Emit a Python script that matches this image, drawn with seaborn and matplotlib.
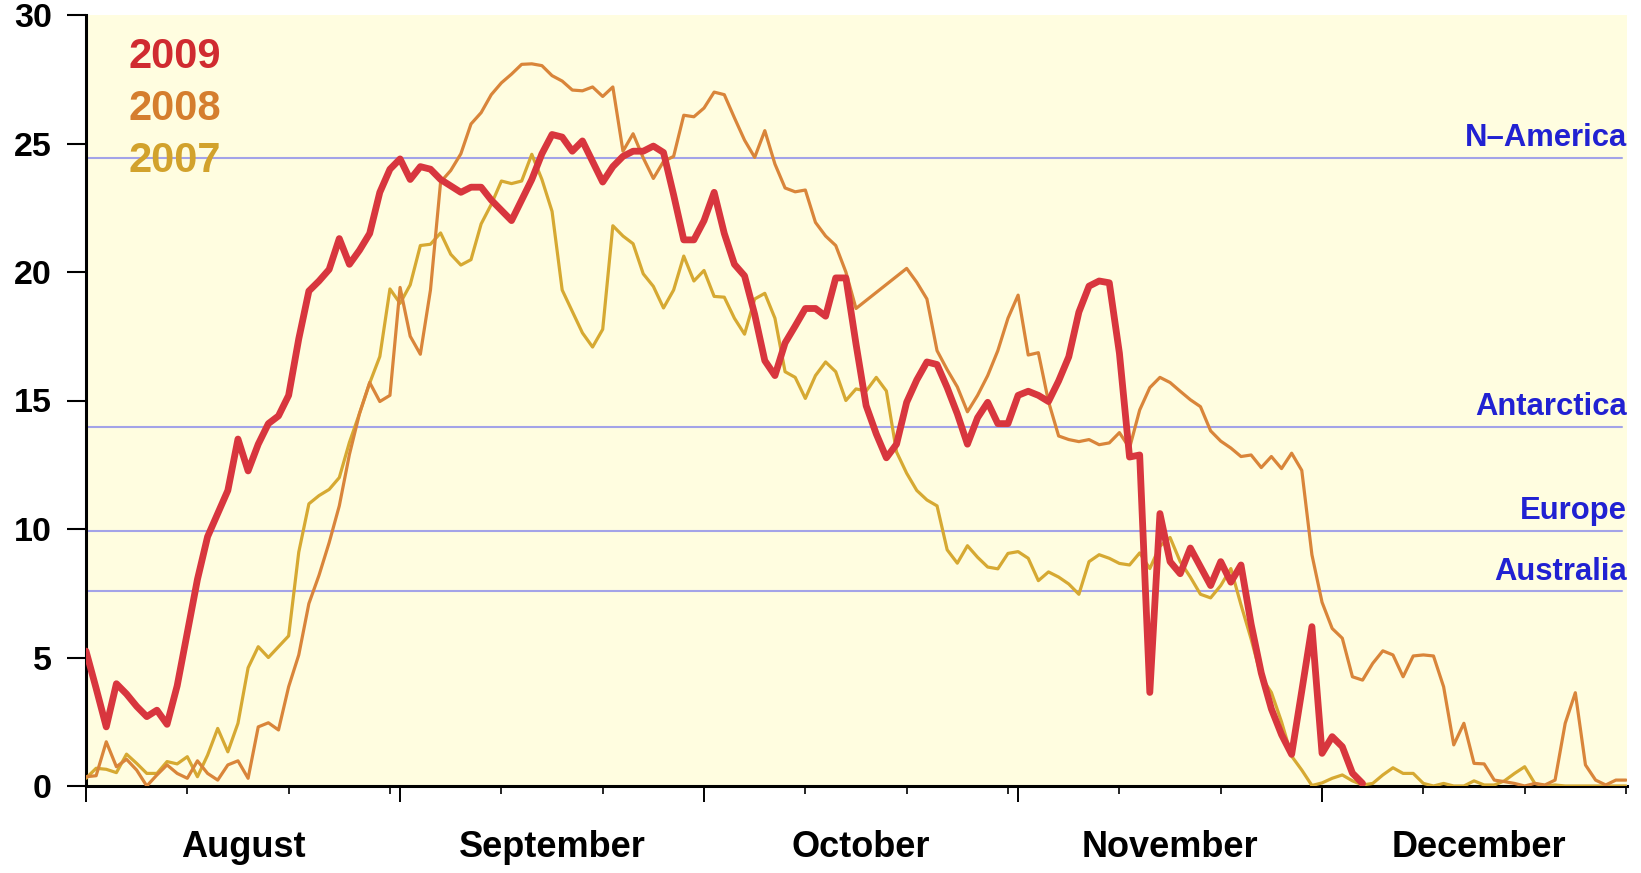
import matplotlib
matplotlib.use("Agg")
import matplotlib.pyplot as plt
import matplotlib.transforms as mtransforms
import numpy as np
import pandas as pd
import seaborn as sns

# ---------------- data ----------------
months = ["August", "September", "October", "November", "December"]
month_start = [0, 31, 61, 92, 122]      # days after 1 August
month_len = [31, 30, 31, 30, 31]

years = ["2007", "2008", "2009"]

days_2009 = list(range(0, 127))
area_2009 = [5.25, 3.8, 2.3, 3.98, 3.58, 3.1, 2.7, 2.95, 2.4, 3.9,
             5.97, 8.04, 9.7, 10.6, 11.5, 13.5, 12.26, 13.3, 14.1, 14.4,
             15.2, 17.4, 19.26, 19.65, 20.1, 21.3, 20.3, 20.85, 21.5, 23.1,
             24.0, 24.4, 23.6, 24.1, 24.0, 23.6, 23.35, 23.1, 23.3, 23.3,
             22.8, 22.4, 22.0, 22.8, 23.6, 24.6, 25.35, 25.25, 24.7, 25.1,
             24.3, 23.5, 24.1, 24.5, 24.7, 24.7, 24.9, 24.65, 23.0, 21.25,
             21.25, 22.0, 23.1, 21.5, 20.3, 19.85, 18.35, 16.55, 15.97, 17.24,
             17.9, 18.58, 18.58, 18.28, 19.77, 19.77, 17.2, 14.8, 13.7, 12.77,
             13.3, 14.93, 15.8, 16.5, 16.4, 15.5, 14.48, 13.3, 14.33, 14.93,
             14.1, 14.1, 15.2, 15.36, 15.2, 14.96, 15.76, 16.7, 18.44, 19.45,
             19.65, 19.58, 16.84, 12.8, 12.88, 3.64, 10.6, 8.73, 8.26, 9.26,
             8.53, 7.8, 8.73, 7.93, 8.6, 6.3, 4.4, 3.0, 2.0, 1.23,
             3.7, 6.2, 1.27, 1.92, 1.53, 0.5, 0.1]

days_2008 = list(range(0, 77)) + list(range(81, 153))
area_2008 = [0.36, 0.4, 1.72, 0.75, 1.04, 0.62, 0.0, 0.43, 0.82, 0.49,
             0.3, 0.98, 0.49, 0.23, 0.82, 0.98, 0.3, 2.3, 2.46, 2.18,
             3.86, 5.1, 7.1, 8.2, 9.47, 10.9, 12.9, 14.5, 15.7, 14.96,
             15.2, 19.4, 17.5, 16.8, 19.3, 23.5, 23.95, 24.6, 25.76, 26.2,
             26.9, 27.36, 27.7, 28.08, 28.1, 28.03, 27.64, 27.43, 27.08, 27.05,
             27.2, 26.83, 27.2, 24.7, 25.38, 24.44, 23.64, 24.3, 24.5, 26.1,
             26.04, 26.38, 27.0, 26.9, 26.0, 25.13, 24.46, 25.5, 24.2, 23.27,
             23.12, 23.19, 21.93, 21.4, 21.03, 20.0, 18.58,
             20.14, 19.6, 18.95, 16.94, 16.2, 15.53, 14.56, 15.2, 15.97, 16.94,
             18.2, 19.1, 16.77, 16.86, 14.96, 13.62, 13.48, 13.4, 13.48, 13.28,
             13.35, 13.75, 13.15, 14.63, 15.5, 15.9, 15.7, 15.36, 15.03, 14.76,
             13.82, 13.42, 13.15, 12.82, 12.88, 12.39, 12.82, 12.35, 12.95, 12.28,
             9.0, 7.15, 6.13, 5.75, 4.25, 4.12, 4.77, 5.26, 5.1, 4.25,
             5.06, 5.1, 5.06, 3.86, 1.6, 2.44, 0.88, 0.86, 0.23, 0.17,
             0.1, 0.0, 0.1, 0.04, 0.23, 2.44, 3.63, 0.82, 0.23, 0.04,
             0.23, 0.23]

days_2007 = list(range(0, 153))
area_2007 = [0.3, 0.69, 0.65, 0.52, 1.24, 0.88, 0.49, 0.49, 0.95, 0.86,
             1.14, 0.36, 1.2, 2.24, 1.33, 2.44, 4.6, 5.42, 5.0, 5.42,
             5.84, 9.1, 10.98, 11.3, 11.54, 12.0, 13.37, 14.5, 15.68, 16.71,
             19.34, 18.78, 19.5, 21.03, 21.08, 21.52, 20.69, 20.27, 20.48, 21.87,
             22.63, 23.54, 23.44, 23.54, 24.58, 23.6, 22.36, 19.3, 18.46, 17.63,
             17.08, 17.77, 21.8, 21.4, 21.1, 19.93, 19.44, 18.6, 19.3, 20.62,
             19.65, 20.06, 19.05, 19.02, 18.2, 17.58, 18.95, 19.17, 18.2, 16.12,
             15.9, 15.08, 15.97, 16.5, 16.12, 15.0, 15.45, 15.37, 15.9, 15.37,
             13.0, 12.17, 11.5, 11.13, 10.9, 9.19, 8.67, 9.35, 8.9, 8.52,
             8.45, 9.05, 9.12, 8.86, 7.99, 8.33, 8.13, 7.86, 7.46, 8.73,
             9.0, 8.86, 8.66, 8.6, 9.07, 8.46, 9.33, 9.67, 8.73, 8.13,
             7.46, 7.32, 7.8, 8.46, 7.05, 5.72, 4.24, 3.64, 2.5, 1.16,
             0.62, 0.02, 0.12, 0.3, 0.43, 0.2, 0.04, 0.1, 0.43, 0.71,
             0.49, 0.49, 0.1, 0.0, 0.1, 0.0, 0.0, 0.2, 0.04, 0.04,
             0.2, 0.49, 0.75, 0.1, 0.0, 0.04, 0.0, 0.0, 0.0, 0.0,
             0.0, 0.0, 0.0]

regions = ["N\u2013America", "Antarctica", "Europe", "Australia"]
region_area = [24.45, 13.97, 9.92, 7.57]

y_ticks = [0, 5, 10, 15, 20, 25, 30]

# ---------------- styling ----------------
line_colors = {"2009": "#D8363E", "2008": "#D9853A", "2007": "#D6A932"}
text_colors = {"2009": "#D02B30", "2008": "#D57E2E", "2007": "#D2A22C"}
line_widths = {"2009": 4.9, "2008": 2.3, "2007": 2.3}

sns.set_theme(style="white")
plt.rcParams["font.family"] = ["Liberation Sans", "DejaVu Sans"]

df = pd.concat([
    pd.DataFrame({"day": days_2007, "area": area_2007, "year": "2007"}),
    pd.DataFrame({"day": days_2008, "area": area_2008, "year": "2008"}),
    pd.DataFrame({"day": days_2009, "area": area_2009, "year": "2009"}),
], ignore_index=True)

W, H = 1641, 873
fig = plt.figure(figsize=(W / 100, H / 100), dpi=100)
fig.patch.set_facecolor("white")
ax = fig.add_axes([86 / W, 87 / H, 1541 / W, 771 / H])
ax.set_facecolor("#FFFDE0")

# reference lines
for name, val in zip(regions, region_area):
    ax.axhline(val, xmin=0, xmax=0.997, color="#A3A3E8", lw=1.5, zorder=1)
    ax.annotate(name, xy=(1.0, val), xycoords=("axes fraction", "data"),
                xytext=(0, 8.5), textcoords="offset points",
                ha="right", va="baseline", color="#2121D2",
                fontsize=22.3, fontweight="bold", zorder=2)

sns.lineplot(data=df, x="day", y="area", hue="year", size="year",
             hue_order=years, size_order=years,
             palette=line_colors, sizes=line_widths,
             legend=False, errorbar=None, sort=True, ax=ax, zorder=3)

ax.set_xlim(0, 152.1)
ax.set_ylim(0, 30)
ax.set_xlabel("")
ax.set_ylabel("")

# legend text
leg_y = {"2009": 0.931, "2008": 0.864, "2007": 0.797}
for yr in ["2009", "2008", "2007"]:
    ax.text(0.0273, leg_y[yr], yr, transform=ax.transAxes, ha="left",
            va="baseline", color=text_colors[yr], fontsize=30,
            fontweight="bold", zorder=4)

# spines
for s in ["top", "right"]:
    ax.spines[s].set_visible(False)
for s in ["left", "bottom"]:
    ax.spines[s].set_visible(True)
    ax.spines[s].set_color("black")
    ax.spines[s].set_linewidth(2.2)

# y ticks
ax.set_yticks(y_ticks)
ax.set_yticklabels([str(v) for v in y_ticks])
ax.tick_params(axis="y", which="major", left=True, direction="out",
               length=13.5, width=1.5, color="black", pad=11,
               labelsize=24.5, labelcolor="black")
for lab in ax.get_yticklabels():
    lab.set_fontweight("bold")

# x ticks: month starts (major) and every 10 days (minor)
minor = []
for st, ln in zip(month_start, month_len):
    for k in (10, 20, 30):
        if k < ln:
            minor.append(st + k)
ax.set_xticks(month_start)
ax.set_xticks(minor, minor=True)
ax.tick_params(axis="x", which="major", bottom=True, direction="out",
               length=11.5, width=1.4, color="black", labelbottom=False)
ax.tick_params(axis="x", which="minor", bottom=True, direction="out",
               length=5.5, width=1.2, color="black", labelbottom=False)

# month labels centred in each month
trans = mtransforms.blended_transform_factory(ax.transData, ax.transAxes)
for name, st, ln in zip(months, month_start, month_len):
    ax.text(st + ln / 2.0, -0.092, name, transform=trans, ha="center",
            va="baseline", fontsize=26, fontweight="bold", color="black",
            clip_on=False)

fig.savefig("out.png", dpi=100, facecolor="white")
